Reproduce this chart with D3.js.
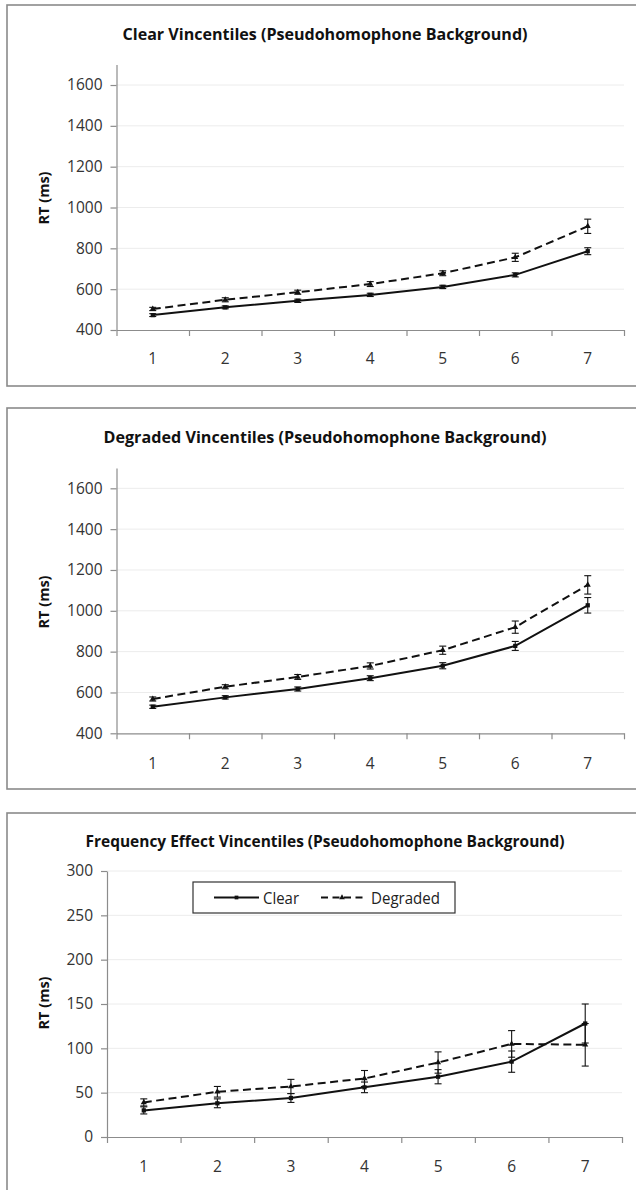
<!DOCTYPE html>
<html>
<head>
<meta charset="utf-8">
<script src="https://cdn.jsdelivr.net/npm/d3@7.9.0/dist/d3.min.js"></script>
<style>
  html, body { margin: 0; padding: 0; background: #fff; }
  svg { display: block; font-family: "Open Sans", "Noto Sans", sans-serif; }
  .grid line { stroke: #ececec; stroke-width: 1; }
  .axis path, .axis line { stroke: #8c8c8c; stroke-width: 1.2; }
  .axis text { fill: #333; font-size: 15.5px; font-family: "Open Sans", "Noto Sans", sans-serif; }
</style>
</head>
<body>
<svg id="chart" width="636" height="1190"></svg>
<script>
// vincentile bins on the x axis
const categories = [1, 2, 3, 4, 5, 6, 7];

// panel 1: clear vincentiles (ms)
const clearPanel_clear = [473, 511, 543, 572, 611, 670, 786];
const clearPanel_clearErr = [7, 7, 8, 8, 8, 10, 17];
const clearPanel_degraded = [503, 548, 585, 625, 678, 756, 908];
const clearPanel_degradedErr = [8, 10, 10, 12, 12, 20, 35];

// panel 2: degraded vincentiles (ms)
const degradedPanel_clear = [530, 576, 617, 670, 731, 828, 1027];
const degradedPanel_clearErr = [8, 8, 10, 12, 15, 22, 38];
const degradedPanel_degraded = [568, 628, 676, 730, 807, 920, 1127];
const degradedPanel_degradedErr = [10, 10, 12, 15, 20, 30, 45];

// panel 3: frequency effect (ms)
const freqPanel_clear = [30, 38, 44, 56, 68, 85, 128];
const freqPanel_clearErr = [4, 5, 5, 6, 8, 12, 22];
const freqPanel_degraded = [39, 51, 57, 66, 84, 105, 104];
const freqPanel_degradedErr = [4, 6, 8, 9, 12, 15, 24];

const rtTicksA = [400, 600, 800, 1000, 1200, 1400, 1600];
const rtTicksB = [0, 50, 100, 150, 200, 250, 300];

const seriesNames = ["Clear", "Degraded"];

const svg = d3.select("#chart");

const panels = [
  {
    title: "Clear Vincentiles (Pseudohomophone  Background)", titleW: 405, titleY: 33,
    box: [7, 5, 386], x: [116.5, 624], y: [330, 64.6], domain: [400, 1700], ticks: rtTicksA,
    labelY: 198, xLabelY: 358,
    clear: clearPanel_clear, clearErr: clearPanel_clearErr,
    degraded: clearPanel_degraded, degradedErr: clearPanel_degradedErr
  },
  {
    title: "Degraded Vincentiles (Pseudohomophone  Background)", titleW: 443, titleY: 436,
    box: [7, 408, 789], x: [116.5, 624], y: [733.3, 467.9], domain: [400, 1700], ticks: rtTicksA,
    labelY: 602, xLabelY: 763,
    clear: degradedPanel_clear, clearErr: degradedPanel_clearErr,
    degraded: degradedPanel_degraded, degradedErr: degradedPanel_degradedErr
  },
  {
    title: "Frequency Effect Vincentiles (Pseudohomophone Background)", titleW: 479, titleY: 840,
    box: [7, 813, 1200], x: [107, 622], y: [1137, 871], domain: [0, 300], ticks: rtTicksB,
    labelY: 1003, xLabelY: 1166, legend: true,
    clear: freqPanel_clear, clearErr: freqPanel_clearErr,
    degraded: freqPanel_degraded, degradedErr: freqPanel_degradedErr
  }
];

function drawPanel(p) {
  const g = svg.append("g");

  // outer frame (right edge is cut off in the original)
  g.append("rect")
    .attr("x", p.box[0]).attr("y", p.box[1])
    .attr("width", 660).attr("height", p.box[2] - p.box[1])
    .attr("fill", "#fff").attr("stroke", "#8a8a8a").attr("stroke-width", 1.6);

  g.append("text")
    .attr("x", 325).attr("y", p.titleY)
    .attr("text-anchor", "middle").attr("dominant-baseline", "central")
    .attr("font-weight", "bold").attr("font-size", 16.5).attr("fill", "#111")
    .attr("textLength", p.titleW).attr("lengthAdjust", "spacingAndGlyphs")
    .text(p.title);

  const y = d3.scaleLinear().domain(p.domain).range(p.y);
  const xBand = d3.scaleBand().domain(categories).range(p.x);
  const xEdge = d3.scaleLinear().domain([0, categories.length]).range(p.x);
  const cx = d => xBand(d) + xBand.bandwidth() / 2;

  // gridlines
  g.append("g").attr("class", "grid")
    .selectAll("line").data(p.ticks.filter(t => t !== p.domain[0])).join("line")
    .attr("x1", p.x[0]).attr("x2", p.x[1])
    .attr("y1", d => y(d)).attr("y2", d => y(d));

  // y axis
  g.append("g").attr("class", "axis")
    .attr("transform", `translate(${p.x[0]},0)`)
    .call(d3.axisLeft(y).tickValues(p.ticks).tickFormat(d3.format("d"))
      .tickSize(6).tickSizeOuter(0).tickPadding(8));

  // x axis: ticks at bin edges, labels at bin centres
  g.append("g").attr("class", "axis")
    .attr("transform", `translate(0,${p.y[0]})`)
    .call(d3.axisBottom(xEdge).tickValues(d3.range(categories.length + 1))
      .tickSize(6).tickSizeOuter(0).tickFormat(""));
  g.append("g").attr("class", "axis")
    .selectAll("text").data(categories).join("text")
    .attr("x", d => cx(d)).attr("y", p.xLabelY)
    .attr("text-anchor", "middle").attr("dominant-baseline", "central")
    .text(d => d);

  g.append("text")
    .attr("transform", `translate(43,${p.labelY}) rotate(-90)`)
    .attr("text-anchor", "middle").attr("dominant-baseline", "central")
    .attr("font-weight", "bold").attr("font-size", 15).attr("fill", "#111")
    .attr("textLength", 53).attr("lengthAdjust", "spacingAndGlyphs")
    .text("RT (ms)");

  const series = [
    { name: seriesNames[0], values: p.clear, err: p.clearErr, dash: null, marker: "square" },
    { name: seriesNames[1], values: p.degraded, err: p.degradedErr, dash: "8,4.5", marker: "triangle" }
  ];

  const line = d3.line().x((d, i) => cx(categories[i])).y(d => y(d));

  series.forEach(s => {
    const sg = g.append("g");
    // error bars
    sg.selectAll("g.err").data(s.values).join("g").attr("class", "err")
      .each(function (v, i) {
        const e = d3.select(this), x = cx(categories[i]);
        const lo = y(v - s.err[i]), hi = y(v + s.err[i]);
        e.append("line").attr("x1", x).attr("x2", x).attr("y1", lo).attr("y2", hi);
        e.append("line").attr("x1", x - 3.5).attr("x2", x + 3.5).attr("y1", lo).attr("y2", lo);
        e.append("line").attr("x1", x - 3.5).attr("x2", x + 3.5).attr("y1", hi).attr("y2", hi);
      })
      .selectAll("line").attr("stroke", "#111").attr("stroke-width", 1.1);

    sg.append("path")
      .datum(s.values)
      .attr("d", line)
      .attr("fill", "none").attr("stroke", "#111").attr("stroke-width", 2)
      .attr("stroke-dasharray", s.dash);

    const sym = d3.symbol().type(s.marker === "square" ? d3.symbolSquare : d3.symbolTriangle)
      .size(s.marker === "square" ? 18 : 16);
    sg.selectAll("path.mk").data(s.values).join("path").attr("class", "mk")
      .attr("transform", (v, i) => `translate(${cx(categories[i])},${y(v)})`)
      .attr("d", sym).attr("fill", "#111");
  });

  if (p.legend) {
    const lg = g.append("g");
    lg.append("rect").attr("x", 193).attr("y", 882).attr("width", 262).attr("height", 31)
      .attr("fill", "#fff").attr("stroke", "#333").attr("stroke-width", 1.2);
    const items = [
      { x1: 214, x2: 259, tx: 263, tw: 36, dash: null, type: d3.symbolSquare, size: 14 },
      { x1: 321, x2: 363, tx: 371, tw: 69, dash: "7,4.5", type: d3.symbolTriangle, size: 14 }
    ];
    items.forEach((it, i) => {
      lg.append("line").attr("x1", it.x1).attr("x2", it.x2).attr("y1", 897.5).attr("y2", 897.5)
        .attr("stroke", "#111").attr("stroke-width", 2).attr("stroke-dasharray", it.dash);
      lg.append("path").attr("transform", `translate(${(it.x1 + it.x2) / 2},897.5)`)
        .attr("d", d3.symbol().type(it.type).size(it.size)).attr("fill", "#111");
      lg.append("text").attr("x", it.tx).attr("y", 898)
        .attr("dominant-baseline", "central").attr("font-size", 15.5).attr("fill", "#222")
        .attr("textLength", it.tw).attr("lengthAdjust", "spacingAndGlyphs")
        .text(seriesNames[i]);
    });
  }
}

panels.forEach(drawPanel);
</script>
</body>
</html>
